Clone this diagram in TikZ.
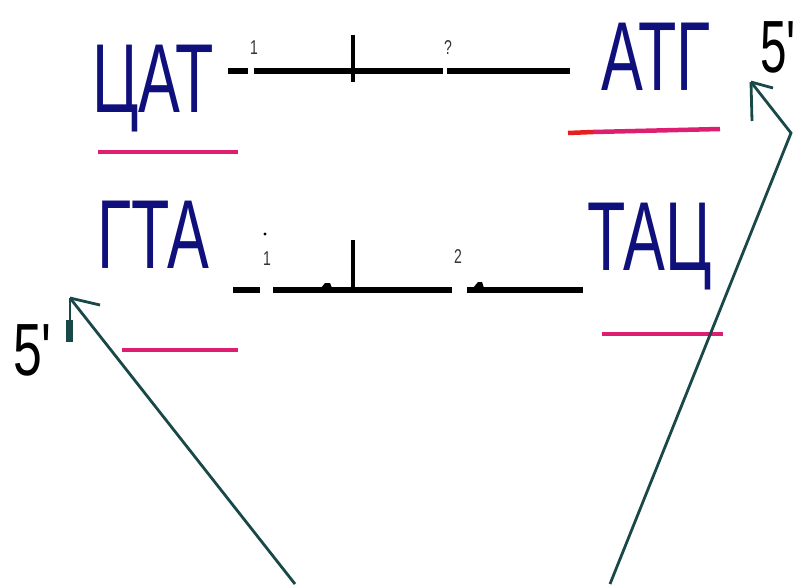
\documentclass[tikz,border=0pt]{standalone}
\usepackage{fontspec}
\setmainfont{Liberation Sans}
\definecolor{navytxt}{RGB}{16,16,124}
\definecolor{mag}{RGB}{222,30,112}
\definecolor{redp}{RGB}{232,30,30}
\definecolor{teal}{RGB}{25,72,72}
\tikzset{
  seq/.style={text=navytxt, inner sep=0pt, anchor=base west, xscale=0.64, font=\fontsize{98}{98}\selectfont},
  prime/.style={text=black, inner sep=0pt, anchor=base west, xscale=0.7, font=\fontsize{74}{74}\selectfont},
  small/.style={text=black!80, inner sep=0pt, xscale=0.7, font=\fontsize{20}{20}\selectfont},
  strand/.style={line width=6.5pt, black},
  tick/.style={line width=3.5pt, black},
  uline/.style={line width=4.5pt, mag},
  pointer/.style={line width=2.8pt, teal, line join=miter},
  barb/.style={line width=2.8pt, teal},
}
\begin{document}
\begin{tikzpicture}[x=1pt,y=-1pt]
\useasboundingbox (0,0) rectangle (798,584);
% sequences
\node[seq] (cat) at (92,112) {ЦАТ};
\node[seq, xscale=1.0] (atg) at (601,90) {АТГ};
\node[seq] (gta) at (97,268) {ГТА};
\node[seq] (tac) at (587,270) {ТАЦ};
% 5' labels
\node[prime, xscale=0.92] (p5r) at (760,72) {5\textquotesingle};
\node[prime] (p5l) at (13,375) {5\textquotesingle};
% top strand
\coordinate (t1a) at (228,71);
\coordinate (t1b) at (248,71);
\coordinate (t2a) at (254,71);
\coordinate (t2b) at (443,71);
\coordinate (t3a) at (447,71);
\coordinate (t3b) at (570,71);
\draw[strand] (t1a) -- (t1b);
\draw[strand] (t2a) -- (t2b);
\draw[strand] (t3a) -- (t3b);
\coordinate (tk1a) at (353,35);
\coordinate (tk1b) at (353,82);
\draw[tick] (tk1a) -- (tk1b);
\node[small] (l1t) at (254,48) {1};
\node[small] (l2t) at (448,48) {?};
% bottom strand
\coordinate (b1a) at (233,290);
\coordinate (b1b) at (260,290);
\coordinate (b2a) at (273,290);
\coordinate (b2b) at (452,290);
\coordinate (b3a) at (467,290);
\coordinate (b3b) at (583,290);
\draw[strand] (b1a) -- (b1b);
\draw[strand] (b2a) -- (b2b);
\draw[strand] (b3a) -- (b3b);
\coordinate (tk2a) at (353,240);
\coordinate (tk2b) at (353,290);
\draw[tick] (tk2a) -- (tk2b);
\fill[black] (321,288) -- (325,283) -- (330,283) -- (332,288) -- cycle;
\fill[black] (473,288) -- (478,282) -- (482,282) -- (484,288) -- cycle;
\node[small] (l1b) at (267,259) {1};
\node[small] (l2b) at (458,257) {2};
\fill[black] (265,234) circle (1.6);
% underlines
\coordinate (u1a) at (98,152);
\coordinate (u1b) at (238,152);
\draw[uline] (u1a) -- (u1b);
\coordinate (u2r) at (568,133);
\coordinate (u2m) at (593,132);
\coordinate (u2b) at (720,129);
\draw[line width=4.5pt, redp] (u2r) -- (u2m);
\draw[uline] (u2m) -- (u2b);
\coordinate (u3a) at (122,350);
\coordinate (u3b) at (238,350);
\draw[uline] (u3a) -- (u3b);
\coordinate (u4a) at (602,334);
\coordinate (u4b) at (723,334);
\draw[uline] (u4a) -- (u4b);
% pointers
\coordinate (rs) at (610,584);
\coordinate (rk) at (791,133);
\coordinate (rt) at (751,82);
\draw[pointer] (rs) -- (rk) -- (rt);
\draw[barb] (rt) -- (773,88);
\draw[barb] (rt) -- (752,121);
\coordinate (ls) at (295,584);
\coordinate (lt) at (70,298);
\draw[pointer] (ls) -- (lt);
\draw[barb] (lt) -- (100,305);
\draw[barb] (lt) -- (70,342);
\fill[teal] (66,320) rectangle (73,342);
\end{tikzpicture}
\end{document}
